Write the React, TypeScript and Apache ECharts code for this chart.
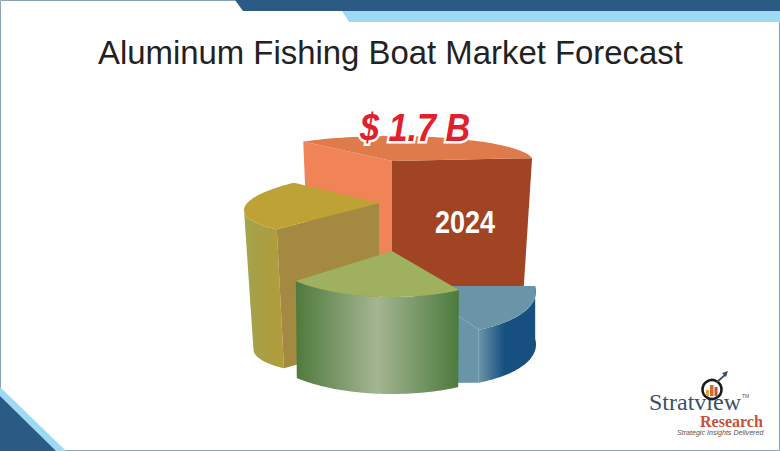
import React, { useEffect, useRef } from "react";
import * as echarts from "echarts";

const titleText = "Aluminum Fishing Boat Market Forecast";
const marketValue = "$ 1.7 B";
const yearLabel = "2024";

// pie shares (%) clockwise from the back-left edge, and each slice's relative height
const sliceNames = ["Slice A", "Slice B", "Slice C", "Slice D"];
const sliceShares = [34, 18, 22.5, 25.5];
const sliceHeights = [130, 53, 97, 139];

const START_ANGLE = -129;

// projection of each slice on the page
const sliceLayout = [
  { cx: 392, cy: 161, rx: 141, ry: 25, skew: 0, taper: 0.94, z2: 1, top: "#df7a4b", startFace: "#f08457", endFace: "#a04424", side: null as any },
  { cx: 415, cy: 286, rx: 121, ry: 48, skew: 0.046, taper: 1, z2: 3, top: "#6a95a8", startFace: null, endFace: "#6a95a8",
    topArcFrom: 4, apexDrop: 44,
    side: { from: -6.6, to: 58.2, stops: [[0, "#6a95a8"], [0.45, "#174f80"], [1, "#174f80"]] } },
  { cx: 392, cy: 251, rx: 127, ry: 46, skew: 0, taper: 0.99, z2: 4, top: "#9fb05e", startFace: null, endFace: null,
    side: { from: 58.2, to: 139.2, stops: [[0, "#4f7a3c"], [0.5, "#a4b592"], [1, "#4c7a3c"]] } },
  { cx: 379, cy: 203, rx: 135, ry: 32, skew: -0.053, taper: 0.93, z2: 2, top: "#bfa236", startFace: "#a48a40", endFace: null,
    side: { from: 139.2, to: 180, stops: [[0, "#a2a84f"], [0.25, "#a6a048"], [1, "#b39c3a"]] } },
] as any[];

const rows = sliceNames.map((name, i) => {
  const before = sliceShares.slice(0, i).reduce((a, b) => a + b, 0);
  return {
    name,
    value: [
      START_ANGLE + (before / 100) * 360,
      START_ANGLE + ((before + sliceShares[i]) / 100) * 360,
      sliceHeights[i],
      i,
    ],
  };
});

function renderSlice(_params: any, api: any) {
  const start = api.value(0);
  const end = api.value(1);
  const h = api.value(2);
  const l = sliceLayout[api.value(3)];
  const pt = (deg: number, bottom: boolean) => {
    const a = (deg * Math.PI) / 180;
    const c = Math.cos(a);
    const s = Math.sin(a);
    return [
      l.cx + l.rx * c * (bottom ? l.taper : 1),
      l.cy + l.ry * s + l.skew * l.rx * c + (bottom ? h : 0),
    ];
  };
  const arc = (from: number, to: number, bottom: boolean) => {
    const n = 48;
    const out: number[][] = [];
    for (let i = 0; i <= n; i++) out.push(pt(from + ((to - from) * i) / n, bottom));
    return out;
  };
  const apexTop = [l.cx, l.cy];
  const apexBottom = [l.cx, l.cy + h + (l.apexDrop || 0)];
  const children: any[] = [];
  const poly = (points: number[][], fill: any, order: number) =>
    children.push({
      type: "polygon",
      z2: l.z2 * 10 + order,
      shape: { points },
      style: { fill, stroke: null },
      silent: true,
    });
  if (l.side) {
    const stops = l.side.stops.map((st: any) => ({ offset: st[0], color: st[1] }));
    poly(
      [...arc(l.side.from, l.side.to, false), ...arc(l.side.to, l.side.from, true)],
      { type: "linear", x: 0, y: 0, x2: 1, y2: 0, colorStops: stops },
      0
    );
  }
  if (l.startFace) poly([apexTop, pt(start, false), pt(start, true), apexBottom], l.startFace, 1);
  if (l.endFace) poly([apexTop, pt(end, false), pt(end, true), apexBottom], l.endFace, 1);
  poly([apexTop, pt(start, false), ...arc(l.topArcFrom ?? start, end, false)], l.top, 2);
  return { type: "group", children };
}

const DARK = "#2b5a85";
const LIGHT = "#9fdaf5";

export default function App() {
  const ref = useRef<HTMLDivElement>(null);
  useEffect(() => {
    document.body.style.margin = "0";
    const chart = echarts.init(ref.current!, null, { renderer: "svg" });
    chart.setOption({
      animation: false,
      backgroundColor: "#ffffff",
      title: {
        text: titleText,
        left: 98,
        top: 36,
        padding: 0,
        textStyle: { fontFamily: "Liberation Sans", fontSize: 32.9, fontWeight: "normal", color: "#222222" },
      },
      series: [
        {
          type: "custom",
          coordinateSystem: "none",
          silent: true,
          z: 2,
          renderItem: renderSlice,
          data: rows,
        },
      ],
      graphic: [
        { type: "rect", z: 0, shape: { x: 0.5, y: 0.5, width: 779, height: 450 }, style: { fill: "none", stroke: "#88a3b5", lineWidth: 1 } },
        { type: "polygon", z: 0, shape: { points: [[342, 11], [349, 22], [780, 22], [780, 11]] }, style: { fill: LIGHT } },
        { type: "polygon", z: 0, shape: { points: [[235, 0], [243, 11], [780, 11], [780, 0]] }, style: { fill: DARK } },
        { type: "polygon", z: 0, shape: { points: [[0, 387], [66, 451], [0, 451]] }, style: { fill: LIGHT } },
        { type: "polygon", z: 0, shape: { points: [[0, 396], [56, 451], [0, 451]] }, style: { fill: DARK } },
        {
          type: "text", z: 10, x: 415, y: 128, scaleX: 0.9,
          style: {
            text: marketValue, fill: "#e0202c", stroke: "#ffffff", lineWidth: 5,
            fontFamily: "Liberation Sans", fontSize: 38, fontWeight: "bold", fontStyle: "italic",
            textAlign: "center", textVerticalAlign: "middle",
          },
        },
        {
          type: "text", z: 10, x: 465, y: 222, scaleX: 0.87,
          style: {
            text: yearLabel, fill: "#ffffff", fontFamily: "Liberation Sans", fontSize: 31, fontWeight: "bold",
            textAlign: "center", textVerticalAlign: "middle",
          },
        },
        {
          type: "text", z: 10, x: 649, y: 401.5,
          style: { text: "Stratview", fill: "#3d5069", fontFamily: "Liberation Serif", fontSize: 24, textVerticalAlign: "middle" },
        },
        {
          type: "text", z: 10, x: 742, y: 396,
          style: { text: "TM", fill: "#555555", fontFamily: "Liberation Sans", fontSize: 5, textVerticalAlign: "middle" },
        },
        {
          type: "text", z: 10, x: 700, y: 421,
          style: { text: "Research", fill: "#c8503a", fontFamily: "Liberation Serif", fontSize: 16, fontWeight: "bold", textVerticalAlign: "middle" },
        },
        {
          type: "text", z: 10, x: 677, y: 432.5,
          style: { text: "Strategic Insights Delivered", fill: "#555555", fontFamily: "Liberation Sans", fontSize: 7.1, fontStyle: "italic", textVerticalAlign: "middle" },
        },
        { type: "circle", z: 10, shape: { cx: 712, cy: 389.5, r: 9.5 }, style: { fill: "#ffffff", stroke: "#1a1a1a", lineWidth: 2.6 } },
        { type: "rect", z: 11, shape: { x: 706, y: 390, width: 3, height: 6 }, style: { fill: "#e8a33a" } },
        { type: "rect", z: 11, shape: { x: 710, y: 385, width: 3.5, height: 11 }, style: { fill: "#d9672f" } },
        { type: "rect", z: 11, shape: { x: 714.5, y: 387, width: 3, height: 9 }, style: { fill: "#c8503a" } },
        { type: "line", z: 11, shape: { x1: 717, y1: 382, x2: 726, y2: 374 }, style: { stroke: "#3d5069", lineWidth: 1.8 } },
        { type: "polygon", z: 11, shape: { points: [[728, 371], [722, 373], [726, 377]] }, style: { fill: "#3d5069" } },
      ],
    });
    return () => chart.dispose();
  }, []);
  return <div ref={ref} style={{ width: 780, height: 451 }} />;
}
